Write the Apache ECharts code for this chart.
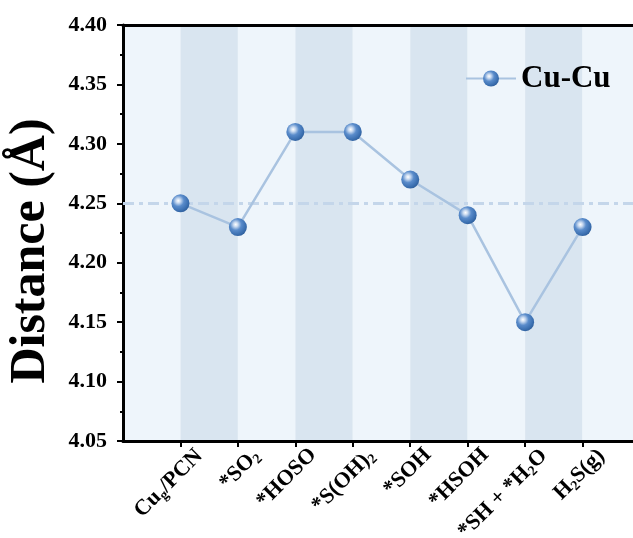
<!DOCTYPE html>
<html>
<head>
<meta charset="utf-8">
<script src="https://cdn.jsdelivr.net/npm/echarts@6/dist/echarts.min.js"></script>
<style>
  html, body { margin: 0; padding: 0; background: #fff; }
  #chart { width: 633px; height: 538px; }
</style>
</head>
<body>
<div id="chart"></div>
<script>
// Adsorbed states along the pathway (rich-text markup for subscripts)
const categories = [
  'Cu{sub|g}/PCN',
  '*SO{sub|2}',
  '*HOSO',
  '*S(OH){sub|2}',
  '*SOH',
  '*HSOH',
  '*SH + *H{sub|2}O',
  'H{sub|2}S(g)'
];
// Cu-Cu distance in Å
const cuCu = [4.25, 4.23, 4.31, 4.31, 4.27, 4.24, 4.15, 4.23];
const referenceLevel = 4.25;
const yTicks = { min: 4.05, max: 4.40, step: 0.05 };

// pad one empty slot on each side so the states sit on band boundaries
const axisCats = [''].concat(categories, ['']);
const seriesData = ['-'].concat(cuCu, ['-']);

const serif = '"Liberation Serif", "Times New Roman", serif';

const sphere = {
  type: 'radial', x: 0.38, y: 0.36, r: 0.7,
  colorStops: [
    { offset: 0, color: '#ffffff' },
    { offset: 0.18, color: '#c9daf0' },
    { offset: 0.45, color: '#5a8ccb' },
    { offset: 0.8, color: '#3b6fb0' },
    { offset: 1, color: '#2d5c98' }
  ]
};

const chart = echarts.init(document.getElementById('chart'), null, { renderer: 'canvas' });

chart.setOption({
  animation: false,
  backgroundColor: '#ffffff',
  grid: { left: 123, width: 517, top: 25, bottom: 97, containLabel: false, outerBoundsMode: 'none' },
  legend: {
    left: 460, top: 58,
    itemWidth: 50, itemHeight: 20, itemGap: 6,
    textStyle: { fontFamily: serif, fontWeight: 'bold', fontSize: 31, color: '#000' },
    data: ['Cu-Cu']
  },
  graphic: [{
    type: 'text',
    x: 31, y: 251,
    rotation: Math.PI / 2,
    style: {
      text: 'Distance (Å)',
      font: 'bold 50px ' + serif,
      fill: '#000',
      align: 'center',
      verticalAlign: 'middle'
    }
  }],
  xAxis: [{
    type: 'category',
    data: axisCats,
    boundaryGap: false,
    axisLine: { lineStyle: { color: '#000', width: 3 } },
    axisTick: {
      show: true, length: 6, inside: false,
      lineStyle: { color: '#000', width: 2 },
      interval: (i) => i > 0 && i < axisCats.length - 1
    },
    axisLabel: {
      interval: 0,
      rotate: 45,
      margin: -7,
      verticalAlign: 'top',
      padding: [14, 0, 0, 0],
      color: '#000',
      fontFamily: serif, fontWeight: 'bold', fontSize: 22,
      rich: {
        sub: { fontFamily: serif, fontWeight: 'bold', fontSize: 14, padding: [11, 0, 0, 0], color: '#000' }
      }
    },
    splitLine: { show: false },
    splitArea: { show: true, areaStyle: { color: ['#eef5fb', '#d9e5f0'] } }
  }, {
    type: 'category',
    position: 'top',
    data: axisCats,
    boundaryGap: false,
    axisLine: { lineStyle: { color: '#000', width: 3 } },
    axisTick: { show: false },
    axisLabel: { show: false },
    splitLine: { show: false }
  }],
  yAxis: {
    type: 'value',
    min: yTicks.min, max: yTicks.max, interval: yTicks.step,
    axisLine: { show: true, lineStyle: { color: '#000', width: 3 } },
    axisTick: { show: true, length: 6, lineStyle: { color: '#000', width: 2 } },
    minorTick: { show: true, splitNumber: 2, length: 3, lineStyle: { color: '#000', width: 2 } },
    axisLabel: {
      margin: 16, color: '#000',
      fontFamily: serif, fontWeight: 'bold', fontSize: 22,
      formatter: (v) => v.toFixed(2)
    },
    splitLine: { show: false }
  },
  series: [{
    name: 'Cu-Cu',
    type: 'line',
    data: seriesData,
    symbol: 'circle',
    symbolSize: 18,
    lineStyle: { color: '#a9c3e0', width: 2.5 },
    itemStyle: { color: sphere, borderWidth: 0 },
    z: 5,
    markLine: {
      silent: true,
      symbol: 'none',
      label: { show: false },
      lineStyle: { color: '#c4d6ea', width: 3, type: [11, 5, 4, 5] },
      data: [{ yAxis: referenceLevel }],
      z: 1
    }
  }]
});
</script>
</body>
</html>
